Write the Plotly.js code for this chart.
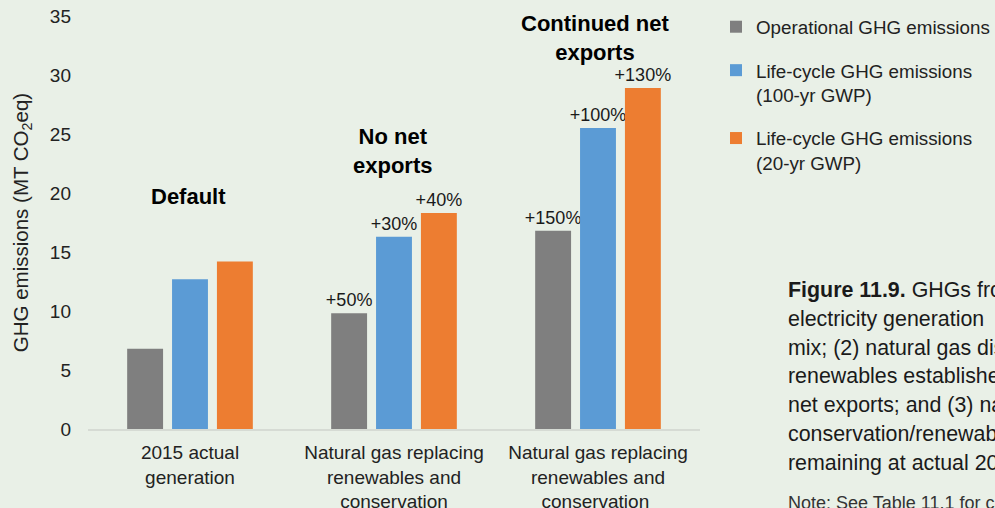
<!DOCTYPE html>
<html>
<head>
<meta charset="utf-8">
<script src="https://cdn.plot.ly/plotly-3.0.1.min.js"></script>
<style>
  html, body { margin: 0; padding: 0; background: #e9f0e7; overflow: hidden; }
  #chart { width: 995px; height: 508px; }
</style>
</head>
<body>
<div id="chart"></div>
<script>
// ---- Data ----
const categories = [
  "2015 actual<br>generation",
  "Natural gas replacing<br>renewables and<br>conservation",
  "Natural gas replacing<br>renewables and<br>conservation "
];
const seriesNames = [
  "Operational GHG emissions",
  "Life-cycle GHG emissions<br>(100-yr GWP)",
  "Life-cycle GHG emissions<br>(20-yr GWP)"
];
const operational = [6.8, 9.8, 16.8];
const lifecycle100 = [12.7, 16.3, 25.5];
const lifecycle20 = [14.2, 18.3, 28.9];
const operationalLabels = ["", "+50%", "+150%"];
const lifecycle100Labels = ["", "+30%", "+100%"];
const lifecycle20Labels = ["", "+40%", "+130%"];
const scenarioLabels = ["Default", "No net<br>exports", "Continued net<br>exports"];
const scenarioY = [19.7, 23.6, 33.1];
const captionLines = [
  "<b>Figure 11.9.</b> GHGs from",
  "electricity generation",
  "mix; (2) natural gas displacing",
  "renewables established",
  "net exports; and (3) natural",
  "conservation/renewables",
  "remaining at actual 2015"
];
const noteText = "Note: See Table 11.1 for calculations.";

// ---- Style ----
const FONT = "Liberation Sans, Arial, Helvetica, sans-serif";
const colors = ["#7f7f7f", "#5b9bd5", "#ed7d31"];
const W = 995, H = 508;
const M = { l: 88, r: 295, t: 16, b: 79 };
const plotW = W - M.l - M.r, plotH = H - M.t - M.b;
const px2x = (px) => (px - M.l) / plotW;
const px2y = (py) => (H - M.b - py) / plotH;

const values = [operational, lifecycle100, lifecycle20];
const labels = [operationalLabels, lifecycle100Labels, lifecycle20Labels];

const traces = values.map((v, i) => ({
  type: "bar",
  name: seriesNames[i],
  x: categories,
  y: v,
  text: labels[i],
  textposition: "outside",
  textfont: { family: FONT, size: 18, color: "#1a1a1a" },
  constraintext: "none",
  cliponaxis: false,
  marker: { color: colors[i] },
  legendgroup: "g" + i,
  hoverinfo: "skip"
}));

const annotations = [];
scenarioLabels.forEach((t, i) => {
  annotations.push({
    x: categories[i], y: scenarioY[i], xref: "x", yref: "y",
    text: "<b>" + t + "</b>", showarrow: false,
    xshift: i === 2 ? -3 : -2,
    font: { family: FONT, size: 22, color: "#000" },
    xanchor: "center", yanchor: "middle"
  });
});
const capY = [290, 319, 348, 376, 405, 434, 463];
captionLines.forEach((t, i) => {
  annotations.push({
    x: px2x(786), y: px2y(capY[i]), xref: "paper", yref: "paper",
    text: t, showarrow: false, xanchor: "left", yanchor: "middle",
    font: { family: FONT, size: 21.4, color: "#1a1a1a" }
  });
});
annotations.push({
  x: px2x(786), y: px2y(503), xref: "paper", yref: "paper",
  text: noteText, showarrow: false, xanchor: "left", yanchor: "middle",
  font: { family: FONT, size: 18, color: "#333" }
});

const layout = {
  width: W, height: H,
  margin: M,
  paper_bgcolor: "#e9f0e7",
  plot_bgcolor: "#e9f0e7",
  font: { family: FONT, color: "#222" },
  barmode: "group",
  bargap: 0.34,
  bargroupgap: 0.2,
  hovermode: false,
  showlegend: true,
  legend: {
    xref: "container", yref: "container",
    x: 716 / W, y: 1 - 8 / H,
    xanchor: "left", yanchor: "top",
    font: { family: FONT, size: 18.8, color: "#222" },
    valign: "top",
    tracegroupgap: 16,
    bgcolor: "rgba(0,0,0,0)"
  },
  xaxis: {
    type: "category",
    showline: true, linecolor: "#d6dbd4", linewidth: 2,
    ticks: "", showgrid: false, zeroline: false,
    tickfont: { family: FONT, size: 19, color: "#222" },
    ticklabelstandoff: 5
  },
  yaxis: {
    range: [0, 35],
    dtick: 5,
    showgrid: false, zeroline: false, showline: false,
    ticks: "",
    tickfont: { family: FONT, size: 19, color: "#222" },
    ticklabelstandoff: 16,
    title: {
      text: "GHG emissions (MT CO<sub>2</sub>eq)",
      font: { family: FONT, size: 20.5, color: "#222" },
      standoff: 15
    }
  },
  annotations: annotations
};

Plotly.newPlot("chart", traces, layout, { displayModeBar: false, staticPlot: true });
</script>
</body>
</html>
